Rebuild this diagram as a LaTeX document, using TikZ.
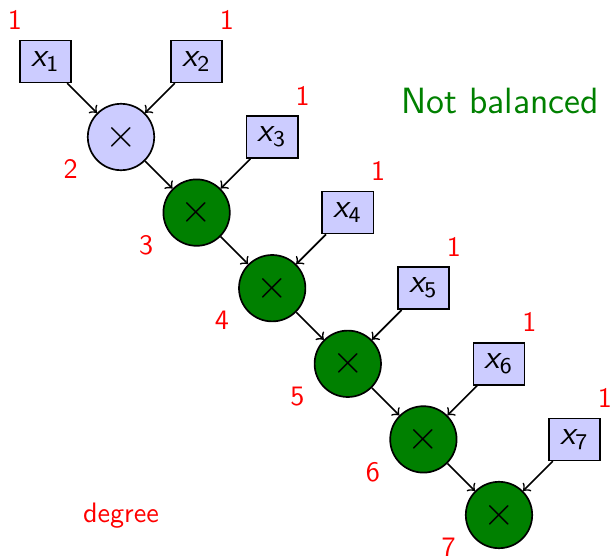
\documentclass[tikz,border=0pt]{standalone}
\usepackage{tikz}
\usetikzlibrary{calc,positioning}
\renewcommand{\familydefault}{\sfdefault}
\definecolor{LeafBlue}{HTML}{CCCCFF}
\definecolor{OpGreen}{HTML}{008000}
\newcommand{\leafvar}[1]{{\slshape x}\textsubscript{#1}}

\begin{document}
\begin{tikzpicture}[on grid, >=to,
    leaf/.style={draw, semithick, fill=LeafBlue, minimum width=0.64cm, minimum height=0.525cm, inner sep=1pt, font=\large},
    opnode/.style={draw, semithick, circle, minimum size=0.83cm, inner sep=0pt, font=\Large},
    deg/.style={text=red, anchor=base},
    edge/.style={->, line width=0.6pt}]
    \useasboundingbox (-1.5125,1.7125) rectangle (6.125,-5.2375);

    \node[opnode, fill=LeafBlue] (m1) {$\times$};
    \node[opnode, fill=OpGreen, below right=0.945cm and 0.945cm of m1] (m2) {$\times$};
    \node[opnode, fill=OpGreen, below right=0.945cm and 0.945cm of m2] (m3) {$\times$};
    \node[opnode, fill=OpGreen, below right=0.945cm and 0.945cm of m3] (m4) {$\times$};
    \node[opnode, fill=OpGreen, below right=0.945cm and 0.945cm of m4] (m5) {$\times$};
    \node[opnode, fill=OpGreen, below right=0.945cm and 0.945cm of m5] (m6) {$\times$};

    \node[leaf, above left=0.945cm and 0.945cm of m1] (x1) {\leafvar{1}};
    \node[leaf, above right=0.945cm and 0.945cm of m1] (x2) {\leafvar{2}};
    \node[leaf, above right=0.945cm and 0.945cm of m2] (x3) {\leafvar{3}};
    \node[leaf, above right=0.945cm and 0.945cm of m3] (x4) {\leafvar{4}};
    \node[leaf, above right=0.945cm and 0.945cm of m4] (x5) {\leafvar{5}};
    \node[leaf, above right=0.945cm and 0.945cm of m5] (x6) {\leafvar{6}};
    \node[leaf, above right=0.945cm and 0.945cm of m6] (x7) {\leafvar{7}};

    % degrees
    \node[deg] (dx1) at ($(x1)+(-0.38,0.4)$) {1};
    \node[deg] (dx2) at ($(x2)+(0.38,0.4)$) {1};
    \node[deg] (dx3) at ($(x3)+(0.38,0.4)$) {1};
    \node[deg] (dx4) at ($(x4)+(0.38,0.4)$) {1};
    \node[deg] (dx5) at ($(x5)+(0.38,0.4)$) {1};
    \node[deg] (dx6) at ($(x6)+(0.38,0.4)$) {1};
    \node[deg] (dx7) at ($(x7)+(0.38,0.4)$) {1};
    \node[deg] (dm1) at ($(m1)+(-0.63,-0.52)$) {2};
    \node[deg] (dm2) at ($(m2)+(-0.63,-0.52)$) {3};
    \node[deg] (dm3) at ($(m3)+(-0.63,-0.52)$) {4};
    \node[deg] (dm4) at ($(m4)+(-0.63,-0.52)$) {5};
    \node[deg] (dm5) at ($(m5)+(-0.63,-0.52)$) {6};
    \node[deg] (dm6) at ($(m6)+(-0.63,-0.52)$) {7};

    \node[deg] (degree) at (0,-4.825) {degree};
    \node[text=OpGreen, anchor=base, font=\fontsize{13}{15}\selectfont] (status) at (4.7375,0.3) {Not balanced};

    \draw[edge] (x1) -- (m1);
    \draw[edge] (x2) -- (m1);
    \draw[edge] (m1) -- (m2);
    \draw[edge] (x3) -- (m2);
    \draw[edge] (m2) -- (m3);
    \draw[edge] (x4) -- (m3);
    \draw[edge] (m3) -- (m4);
    \draw[edge] (x5) -- (m4);
    \draw[edge] (m4) -- (m5);
    \draw[edge] (x6) -- (m5);
    \draw[edge] (m5) -- (m6);
    \draw[edge] (x7) -- (m6);
  \end{tikzpicture}
\end{document}
